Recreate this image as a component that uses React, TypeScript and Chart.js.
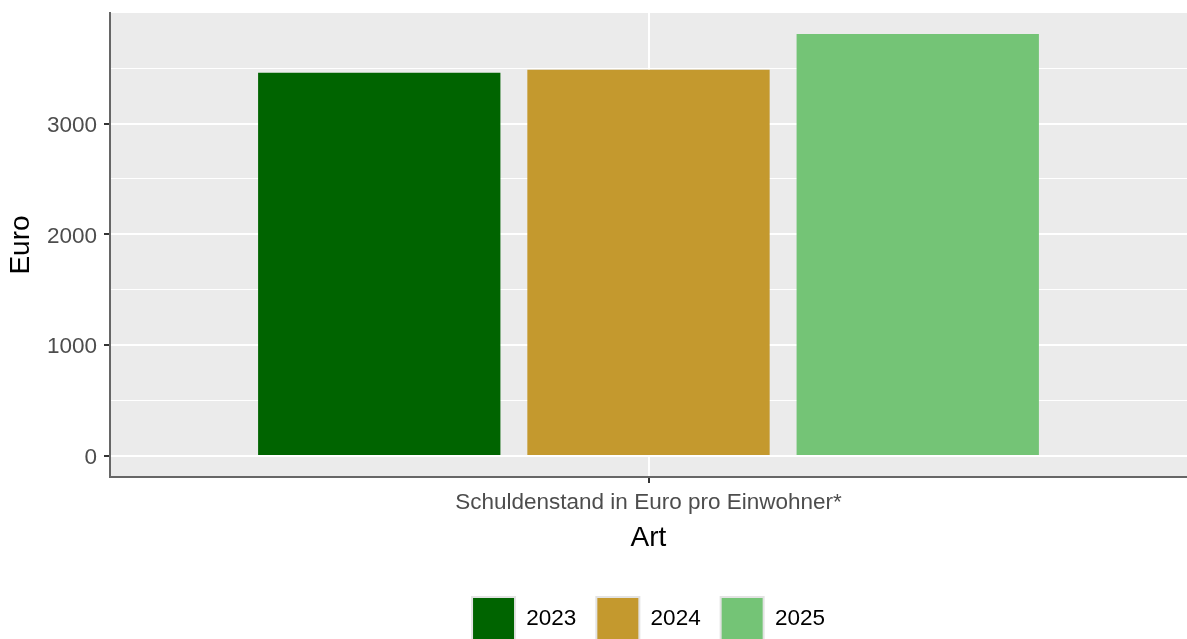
import React, { useEffect, useRef } from "react";
import { Chart, registerables } from "chart.js";

Chart.register(...registerables);

const categories = ["Schuldenstand in Euro pro Einwohner*"];
const seriesLabels = ["2023", "2024", "2025"];
const values2023 = [3458];
const values2024 = [3485];
const values2025 = [3808];
const seriesColors = ["#006400", "#C4992E", "#74C476"];
const yTickValues = [0, 500, 1000, 1500, 2000, 2500, 3000, 3500];
const yLabelStep = 1000;

const FONT = "'Liberation Sans', Arial, sans-serif";

const panelBg = {
  id: "panelBg",
  beforeDraw(chart: any) {
    const { ctx, chartArea } = chart;
    ctx.save();
    ctx.fillStyle = "#EBEBEB";
    ctx.fillRect(chartArea.left, chartArea.top, chartArea.right - chartArea.left, chartArea.bottom - chartArea.top);
    ctx.restore();
  },
};

const isMajor = (v: number) => Math.abs(v % yLabelStep) < 1e-6;

export default function App() {
  const ref = useRef<HTMLCanvasElement | null>(null);

  useEffect(() => {
    if (!ref.current) return;
    Chart.defaults.font.family = FONT;
    const allVals = [...values2023, ...values2024, ...values2025];
    const dMax = Math.max(...allVals);
    const yMax = dMax * 1.05;
    const yMin = -dMax * 0.05;
    const seriesValues = [values2023, values2024, values2025];

    const chart = new Chart(ref.current, {
      type: "bar",
      data: {
        labels: categories,
        datasets: seriesLabels.map((l, i) => ({
          label: l,
          data: seriesValues[i],
          backgroundColor: seriesColors[i],
          borderWidth: 0,
          categoryPercentage: 0.75,
          barPercentage: 0.9,
        })),
      },
      plugins: [panelBg],
      options: {
        animation: false,
        responsive: false,
        devicePixelRatio: 1,
        maintainAspectRatio: false,
        layout: { padding: { top: 13, left: 0, right: 0, bottom: 0 } },
        plugins: {
          tooltip: { enabled: false },
          legend: {
            position: "bottom",
            fullSize: false,
            labels: {
              boxWidth: 43,
              boxHeight: 43,
              padding: 20,
              color: "#000000",
              font: { size: 22.5, family: FONT },
              generateLabels: (chart: any) =>
                chart.data.datasets.map((ds: any, i: number) => ({
                  text: ds.label,
                  fillStyle: ds.backgroundColor,
                  strokeStyle: "#E3E3E3",
                  lineWidth: 2,
                  hidden: false,
                  datasetIndex: i,
                  fontColor: "#000000",
                })),
            },
          },
        },
        scales: {
          x: {
            afterFit: (s: any) => {
              s.height = 100;
              s.paddingLeft = 0;
              s.paddingRight = 0;
            },
            grid: {
              offset: false,
              color: "#FFFFFF",
              lineWidth: 2,
              tickColor: "#333333",
              tickLength: 6,
              tickWidth: 2,
            },
            border: { display: true, color: "#666666", width: 2 },
            ticks: { color: "#4D4D4D", font: { size: 22.5, family: FONT }, padding: 6 },
            title: {
              display: true,
              text: "Art",
              color: "#000000",
              font: { size: 28, family: FONT },
              padding: { top: 0, bottom: 22 },
            },
          },
          y: {
            min: yMin,
            max: yMax,
            afterFit: (s: any) => {
              s.width = 110;
              s.paddingTop = 0;
              s.paddingBottom = 0;
            },
            afterBuildTicks: (s: any) => {
              s.ticks = yTickValues.map((v) => ({ value: v }));
            },
            ticks: {
              color: "#4D4D4D",
              font: { size: 22.5, family: FONT },
              padding: 7,
              labelOffset: 2,
              callback: (v: any) => (isMajor(Number(v)) ? String(v) : ""),
            },
            grid: {
              color: "#FFFFFF",
              lineWidth: (c: any) => (c.tick && isMajor(c.tick.value) ? 2 : 1),
              tickColor: (c: any) => (c.tick && isMajor(c.tick.value) ? "#333333" : "rgba(0,0,0,0)"),
              tickLength: 6,
              tickWidth: 2,
            },
            border: { display: true, color: "#666666", width: 2 },
            title: {
              display: true,
              text: "Euro",
              color: "#000000",
              font: { size: 28, family: FONT },
              padding: { top: 4, bottom: 0 },
            },
          },
        },
      },
    } as any);
    return () => chart.destroy();
  }, []);

  return (
    <div
      style={{
        position: "fixed",
        left: 0,
        top: 0,
        width: 1187,
        height: 639,
        overflow: "hidden",
        background: "#FFFFFF",
      }}
    >
      <canvas ref={ref} width={1187} height={650} style={{ display: "block" }} />
    </div>
  );
}
